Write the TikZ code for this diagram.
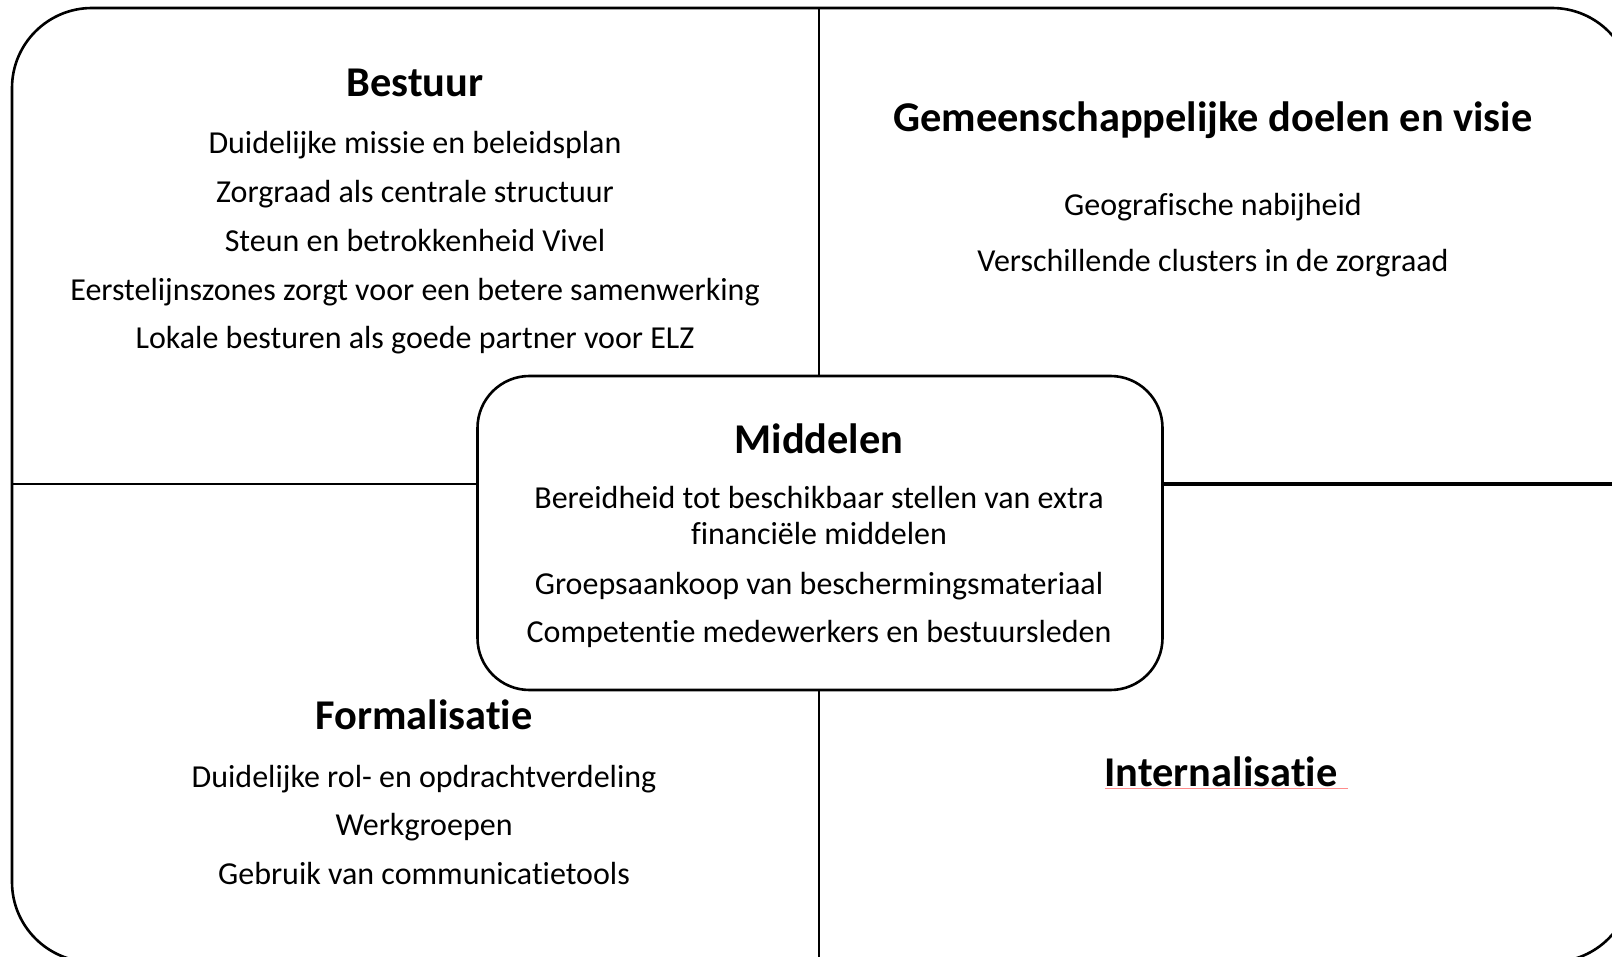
\documentclass[tikz,border=0pt]{standalone}
\usepackage{fontspec}
\setmainfont{Carlito}[Ligatures=NoCommon]
\tikzset{
    kop/.style={font=\bfseries\fontsize{42.4}{48}\selectfont, anchor=base},
    punt/.style={font=\fontsize{32}{36}\selectfont, anchor=base, align=center},
}
\begin{document}
\begin{tikzpicture}[x=1pt, y=-1pt, line width=2pt]
    \useasboundingbox (0, 0) rectangle (1612, 957);
    \clip (0, 0) rectangle (1612, 957);
    % outer frame, runs off the page at right and bottom
    \draw[line width=2.6pt, rounded corners=80pt] (12, 8) rectangle (1632, 962);
    \coordinate (top) at (819, 8);
    \coordinate (bottom) at (819, 962);
    \coordinate (left) at (12, 484);
    \coordinate (right) at (1632, 484);
    % centre box
    \node[draw, fill=white, line width=2.6pt, rounded corners=52pt,
          minimum width=685pt, minimum height=314pt] (midbox) at (820, 533) {};
    \draw (midbox.north -| top) -- (top);
    \draw (midbox.south -| bottom) -- (bottom);
    \draw (midbox.west |- left) -- (left);
    \draw[line width=3.6pt] (midbox.east |- right) -- (right);
    % Bestuur
    \node[kop] (bestuur) at (415, 96.5) {Bestuur};
    \foreach \tekst [count=\i from 0] in {Duidelijke missie en beleidsplan,
        Zorgraad als centrale structuur, Steun en betrokkenheid Vivel,
        Eerstelijnszones zorgt voor een betere samenwerking,
        Lokale besturen als goede partner voor ELZ}
        \node[punt] (bestuur\i) at (415, 153.7 + 48.8 * \i) {\tekst};
    % Gemeenschappelijke doelen en visie
    \node[kop] (doelen) at (1213, 131.5) {Gemeenschappelijke doelen en visie};
    \node[punt] (doelen0) at (1213, 216) {Geografische nabijheid};
    \node[punt] (doelen1) at (1213, 271.3) {Verschillende clusters in de zorgraad};
    % Middelen
    \node[kop] (middelen) at (819, 453.5) {Middelen};
    \node[punt] (middelen0) at (819, 544.5) {Bereidheid tot beschikbaar stellen van extra\\financiële middelen};
    \node[punt] (middelen1) at (819, 594.3) {Groepsaankoop van beschermingsmateriaal};
    \node[punt] (middelen2) at (819, 642.3) {Competentie medewerkers en bestuursleden};
    % Formalisatie
    \node[kop] (formal) at (424, 729) {Formalisatie};
    \foreach \tekst [count=\i from 0] in {Duidelijke rol- en opdrachtverdeling,
        Werkgroepen, Gebruik van communicatietools}
        \node[punt] (formal\i) at (424, 787 + 48.5 * \i) {\tekst};
    % Internalisatie
    \node[kop] (intern) at (1221, 786) {Internalisatie};
    \draw[red!45, line width=1pt] (1105, 788.5) -- (1348, 788.5);
\end{tikzpicture}
\end{document}
